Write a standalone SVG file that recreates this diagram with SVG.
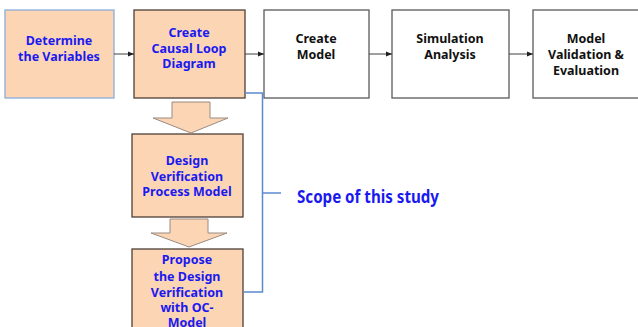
<svg xmlns="http://www.w3.org/2000/svg" width="638" height="327" viewBox="0 0 638 327">
  <defs>
    <style>
      .box { stroke-width: 1.3; }
      .peach { fill: #fbd5b4; }
      .white { fill: #ffffff; }
      .edge-dark { stroke: #4d4038; }
      .edge-blue { stroke: #8aaedb; }
      .edge-grey { stroke: #5a5a5a; }
      .lbl { font-family: "Noto Sans", "Open Sans", sans-serif; font-weight: bold; font-size: 12.5px; text-anchor: middle; }
      .blue { fill: #1a1af0; }
      .black { fill: #111111; }
      .conn { fill: none; stroke: #404040; stroke-width: 1; }
      .bracket { fill: none; stroke: #5b8ad0; stroke-width: 1.5; }
      .bigarrow { fill: #fbd5b4; stroke: #9a8a80; stroke-width: 1; }
      .scope { font-family: "Noto Sans", "Open Sans", sans-serif; font-weight: bold; font-size: 18px; fill: #1a1af0; }
    </style>
    <marker id="tri" viewBox="0 0 10 10" refX="10" refY="5" markerWidth="6" markerHeight="6" orient="auto" markerUnits="userSpaceOnUse">
      <path d="M0,1 L10,5 L0,9 z" fill="#202020"/>
    </marker>
  </defs>

  <g id="n-variables">
    <rect class="box peach edge-blue" x="5" y="10" width="109" height="88"/>
    <text class="lbl blue" x="59" y="45">Determine</text>
    <text class="lbl blue" x="59" y="61">the Variables</text>
  </g>

  <g id="n-causal-loop">
    <rect class="box peach edge-dark" x="134" y="10" width="111" height="88"/>
    <text class="lbl blue" x="189" y="37">Create</text>
    <text class="lbl blue" x="189" y="53">Causal Loop</text>
    <text class="lbl blue" x="189" y="68">Diagram</text>
  </g>

  <g id="n-create-model">
    <rect class="box white edge-grey" x="264" y="10" width="105" height="88"/>
    <text class="lbl black" x="316" y="43">Create</text>
    <text class="lbl black" x="316" y="59">Model</text>
  </g>

  <g id="n-simulation">
    <rect class="box white edge-grey" x="392" y="10" width="117" height="88"/>
    <text class="lbl black" x="450" y="43">Simulation</text>
    <text class="lbl black" x="450" y="59">Analysis</text>
  </g>

  <g id="n-validation">
    <rect class="box white edge-grey" x="533" y="10" width="108" height="88"/>
    <text class="lbl black" x="586" y="43">Model</text>
    <text class="lbl black" x="586" y="59">Validation &amp;</text>
    <text class="lbl black" x="586" y="75">Evaluation</text>
  </g>

  <g id="n-process-model">
    <rect class="box peach edge-dark" x="132" y="134" width="111" height="83"/>
    <text class="lbl blue" x="187" y="165">Design</text>
    <text class="lbl blue" x="187" y="181">Verification</text>
    <text class="lbl blue" x="187" y="196">Process Model</text>
  </g>

  <g id="n-propose">
    <rect class="box peach edge-dark" x="132" y="249" width="111" height="90"/>
    <text class="lbl blue" x="187" y="264">Propose</text>
    <text class="lbl blue" x="187" y="281">the Design</text>
    <text class="lbl blue" x="187" y="297">Verification</text>
    <text class="lbl blue" x="187" y="312">with OC-</text>
    <text class="lbl blue" x="187" y="327">Model</text>
  </g>

  <g id="connectors">
    <line class="conn" x1="114" y1="54" x2="134" y2="54" marker-end="url(#tri)"/>
    <line class="conn" x1="245" y1="54" x2="264" y2="54" marker-end="url(#tri)"/>
    <line class="conn" x1="369" y1="54" x2="392" y2="54" marker-end="url(#tri)"/>
    <line class="conn" x1="509" y1="54" x2="533" y2="54" marker-end="url(#tri)"/>
    <!-- block arrows between the stacked steps -->
    <path class="bigarrow" d="M172,102 H210 V118 H228 L191,133 L153,118 H172 Z"/>
    <path class="bigarrow" d="M170,219 H208 V233 H227 L189,247 L151,233 H170 Z"/>
    <!-- scope bracket -->
    <path class="bracket" d="M245,93 H262.5 V292 H244"/>
    <line class="bracket" x1="262.5" y1="193" x2="281" y2="193"/>
  </g>

  <g id="scope-label">
    <text class="scope" x="297" y="203" textLength="142" lengthAdjust="spacingAndGlyphs">Scope of this study</text>
  </g>
</svg>
